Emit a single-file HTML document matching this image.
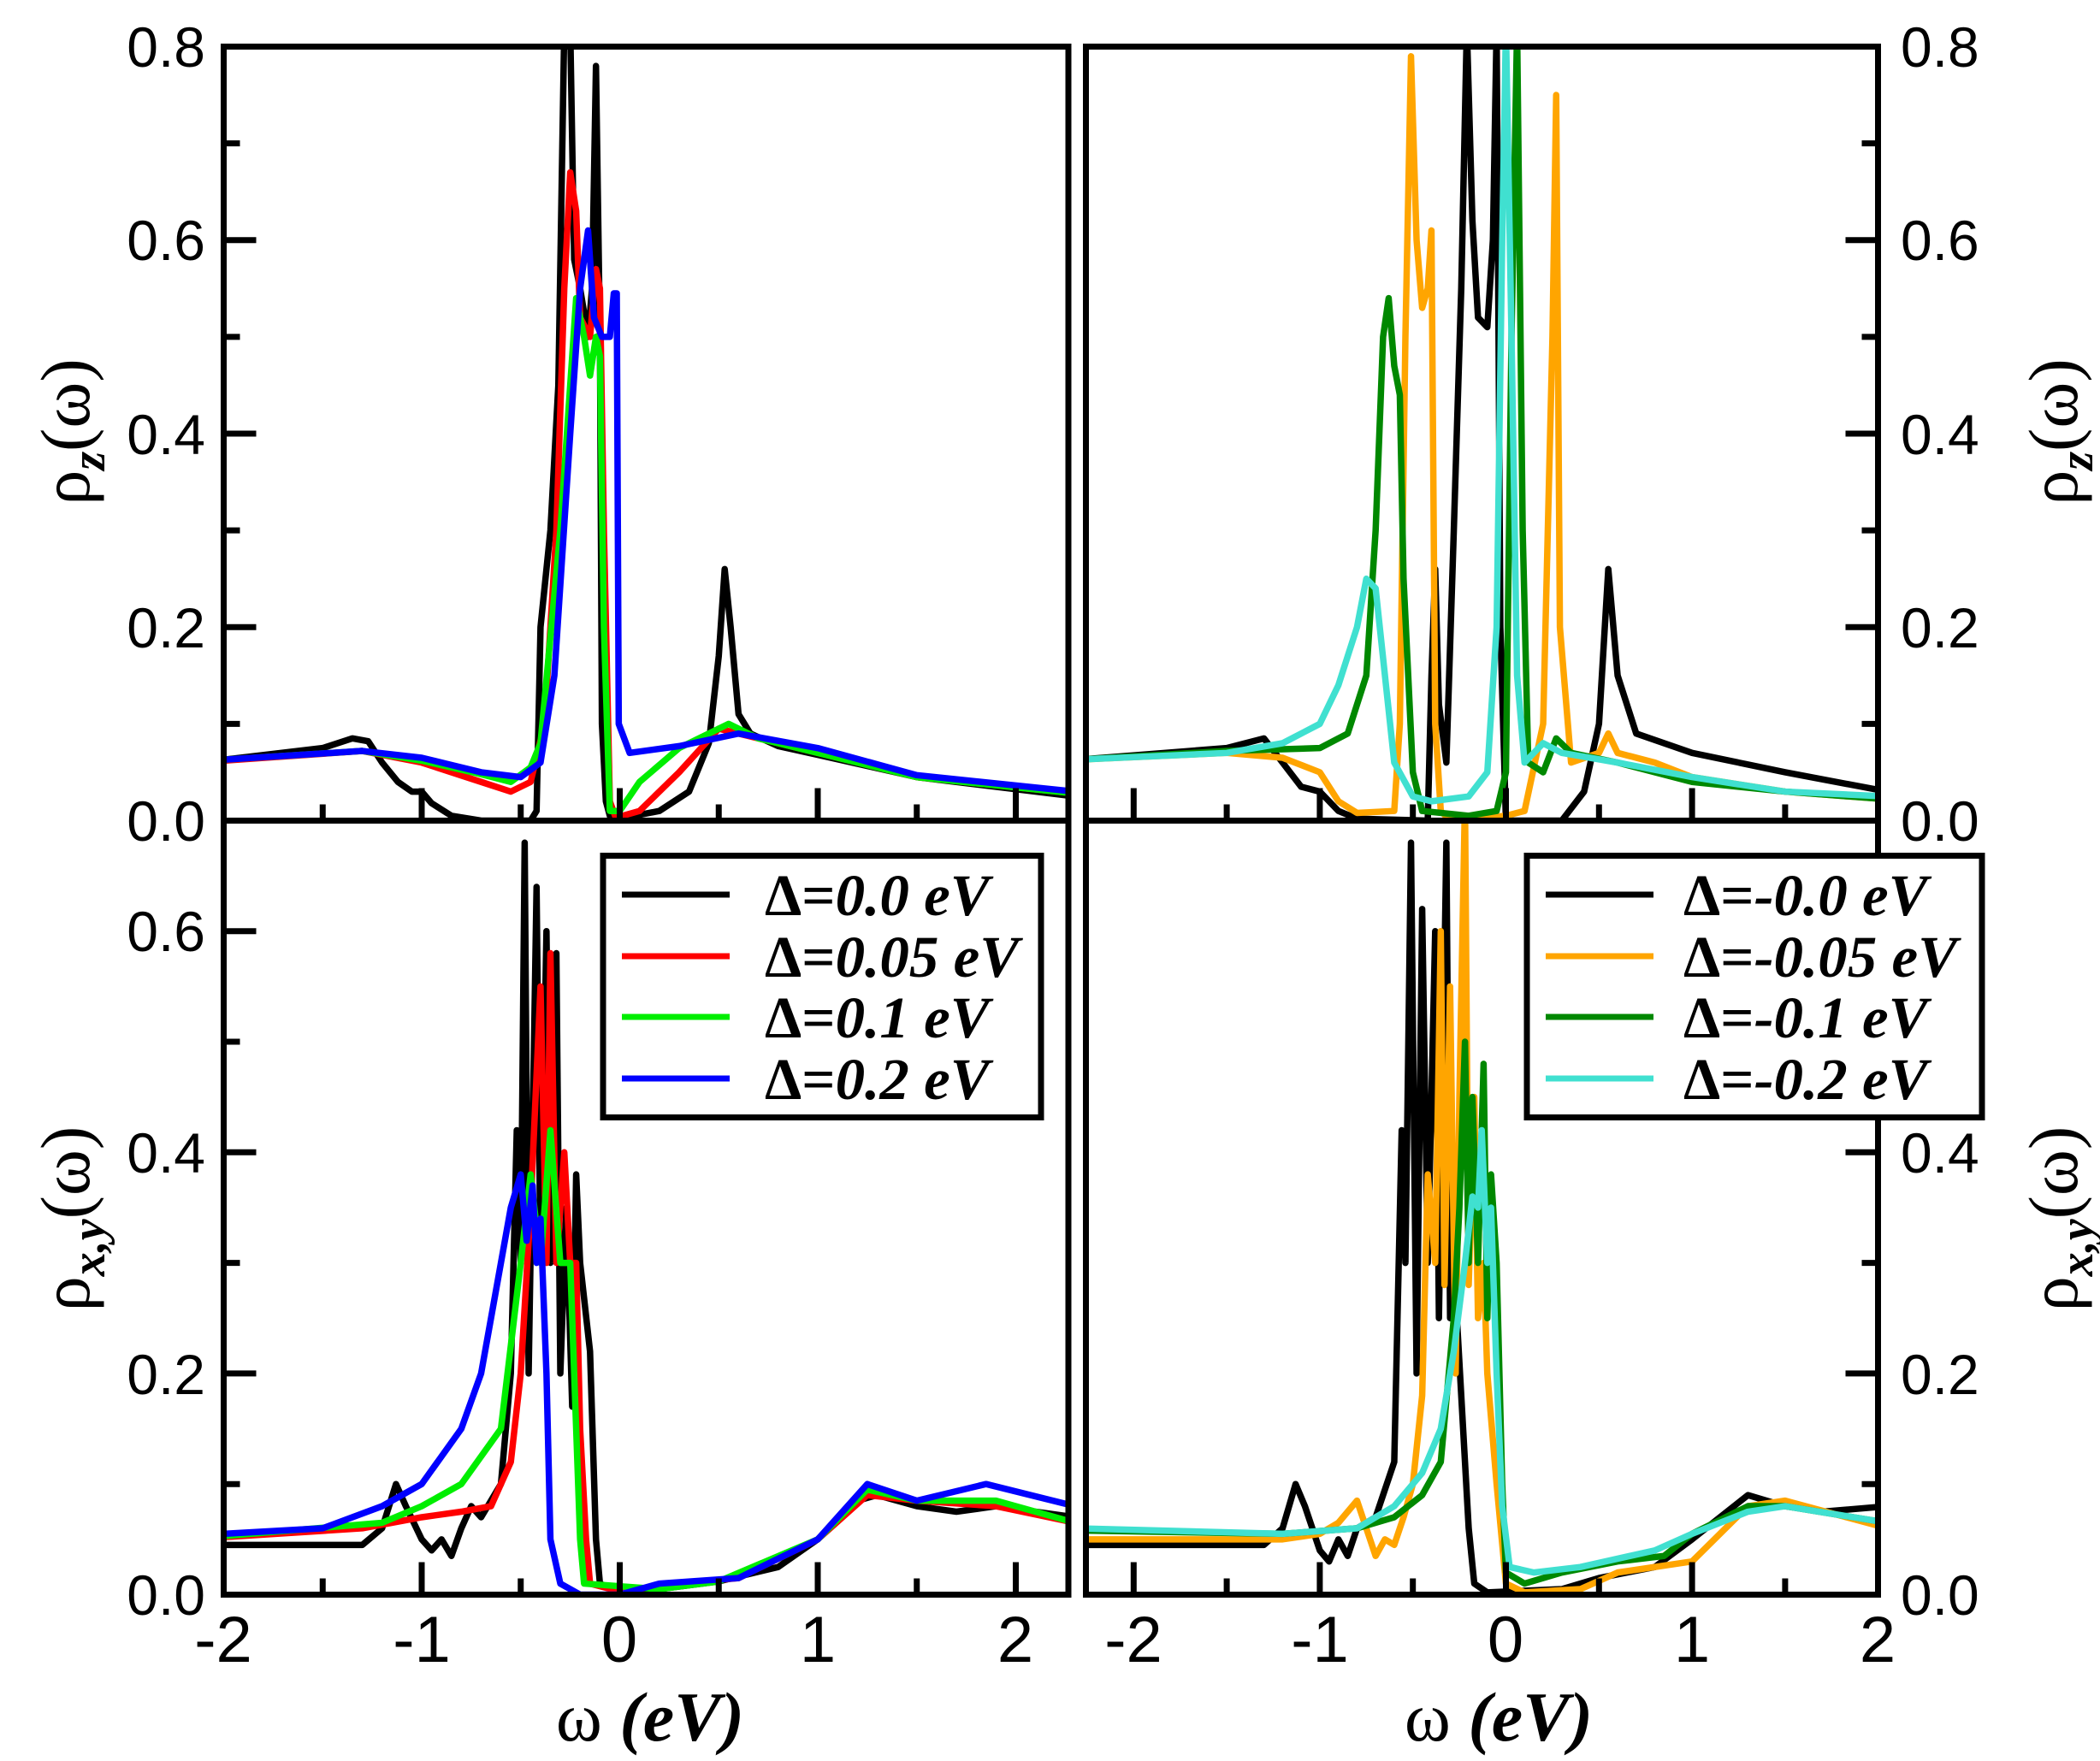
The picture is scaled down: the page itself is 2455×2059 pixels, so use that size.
<!DOCTYPE html>
<html><head><meta charset="utf-8"><style>
html,body{margin:0;padding:0;background:#fff;}
svg{display:block;}
.tl{font-family:"Liberation Sans",sans-serif;font-size:66px;}
.lg{font-family:"Liberation Serif",serif;font-size:69px;font-weight:bold;}
.ax{font-family:"Liberation Serif",serif;font-size:82px;}
</style></head><body>
<svg width="2455" height="2059" viewBox="0 0 2455 2059" xmlns="http://www.w3.org/2000/svg">
<defs>
<clipPath id="cTL"><rect x="261.5" y="54.5" width="987.5" height="905"/></clipPath>
<clipPath id="cTR"><rect x="1269.5" y="54.5" width="926" height="905"/></clipPath>
<clipPath id="cBL"><rect x="261.5" y="959.5" width="987.5" height="905"/></clipPath>
<clipPath id="cBR"><rect x="1269.5" y="959.5" width="926" height="905"/></clipPath>
</defs>
<rect width="2455" height="2059" fill="#fff"/>
<g fill="none" stroke-width="7.5" stroke-linejoin="round" stroke-linecap="round">
<g clip-path="url(#cTL)"><g transform="translate(724.5,959.5) scale(231.5,-1131.25)">
<polyline vector-effect="non-scaling-stroke" stroke="#000" points="-2,0.063 -1.5,0.075 -1.35,0.085 -1.27,0.082 -1.2,0.06 -1.12,0.04 -1.05,0.03 -1,0.03 -0.95,0.018 -0.85,0.005 -0.7,0 -0.45,0 -0.42,0.01 -0.4,0.2 -0.35,0.3 -0.31,0.45 -0.28,0.82 -0.25,0.82 -0.23,0.58 -0.2,0.55 -0.16,0.5 -0.14,0.55 -0.12,0.78 -0.1,0.5 -0.09,0.1 -0.07,0.02 -0.05,0.005 0,0.002 0.2,0.01 0.35,0.03 0.45,0.08 0.5,0.17 0.53,0.26 0.56,0.2 0.6,0.11 0.66,0.09 0.8,0.077 1,0.068 1.5,0.045 2.3,0.025"/>
<polyline vector-effect="non-scaling-stroke" stroke="#ff0000" points="-2,0.062 -1.3,0.072 -1,0.06 -0.7,0.04 -0.55,0.03 -0.45,0.04 -0.38,0.1 -0.32,0.3 -0.28,0.55 -0.25,0.67 -0.22,0.63 -0.2,0.52 -0.15,0.5 -0.12,0.57 -0.1,0.55 -0.08,0.3 -0.05,0.02 -0.02,0.003 0.1,0.01 0.3,0.05 0.5,0.095 0.6,0.09 1,0.07 1.5,0.045 2.3,0.028"/>
<polyline vector-effect="non-scaling-stroke" stroke="#00ee00" points="-2,0.063 -1.3,0.072 -1,0.062 -0.7,0.048 -0.55,0.04 -0.45,0.055 -0.4,0.08 -0.3,0.3 -0.22,0.54 -0.18,0.5 -0.15,0.46 -0.12,0.5 -0.1,0.48 -0.08,0.2 -0.05,0.01 0,0.01 0.1,0.04 0.3,0.075 0.55,0.1 0.7,0.085 1,0.07 1.5,0.045 2.3,0.028"/>
<polyline vector-effect="non-scaling-stroke" stroke="#0000ff" points="-2,0.063 -1.3,0.072 -1,0.065 -0.7,0.05 -0.5,0.045 -0.4,0.06 -0.33,0.15 -0.25,0.4 -0.2,0.55 -0.16,0.61 -0.13,0.52 -0.09,0.5 -0.05,0.5 -0.03,0.545 -0.015,0.545 -0.005,0.1 0.05,0.07 0.3,0.077 0.6,0.09 1,0.075 1.5,0.047 2.3,0.03"/>
</g></g>
<g clip-path="url(#cTR)"><g transform="translate(1760.5,959.5) scale(217.6,-1131.25)">
<polyline vector-effect="non-scaling-stroke" stroke="#000" points="-2.3,0.063 -1.5,0.075 -1.3,0.085 -1.2,0.06 -1.1,0.035 -1,0.03 -0.9,0.01 -0.8,0.002 -0.42,0 -0.4,0.15 -0.38,0.26 -0.36,0.12 -0.32,0.06 -0.28,0.3 -0.24,0.55 -0.21,0.82 -0.18,0.62 -0.15,0.52 -0.1,0.51 -0.07,0.6 -0.05,0.82 -0.03,0.2 0,0 0.3,0 0.42,0.03 0.5,0.1 0.55,0.26 0.6,0.15 0.7,0.09 1,0.07 1.5,0.05 2.05,0.03"/>
<polyline vector-effect="non-scaling-stroke" stroke="#ffa500" points="-2.3,0.063 -1.5,0.07 -1.2,0.065 -1,0.05 -0.9,0.02 -0.8,0.008 -0.6,0.01 -0.57,0.1 -0.54,0.5 -0.51,0.79 -0.48,0.6 -0.45,0.53 -0.42,0.55 -0.4,0.61 -0.38,0.1 -0.35,0.01 -0.3,0 0,0.005 0.1,0.01 0.2,0.1 0.25,0.5 0.27,0.75 0.29,0.2 0.35,0.06 0.5,0.07 0.55,0.09 0.6,0.07 0.8,0.06 1,0.045 1.5,0.03 2.05,0.022"/>
<polyline vector-effect="non-scaling-stroke" stroke="#008800" points="-2.3,0.063 -1.5,0.072 -1,0.075 -0.85,0.09 -0.75,0.15 -0.7,0.3 -0.66,0.5 -0.63,0.54 -0.6,0.47 -0.57,0.44 -0.55,0.25 -0.5,0.05 -0.45,0.01 -0.2,0.005 -0.05,0.01 0,0.05 0.03,0.5 0.06,0.82 0.09,0.3 0.12,0.06 0.2,0.05 0.27,0.085 0.35,0.07 0.6,0.06 1,0.04 1.5,0.03 2.05,0.022"/>
<polyline vector-effect="non-scaling-stroke" stroke="#40e0d0" points="-2.3,0.063 -1.5,0.07 -1.2,0.08 -1,0.1 -0.9,0.14 -0.8,0.2 -0.75,0.25 -0.7,0.24 -0.65,0.15 -0.6,0.06 -0.5,0.025 -0.4,0.02 -0.2,0.025 -0.1,0.05 -0.05,0.2 -0.02,0.6 0,0.82 0.03,0.5 0.06,0.15 0.1,0.06 0.2,0.08 0.3,0.07 0.6,0.06 1,0.045 1.5,0.03 2.05,0.025"/>
</g></g>
<g clip-path="url(#cBL)"><g transform="translate(724.5,1864.5) scale(231.5,-1293)">
<polyline vector-effect="non-scaling-stroke" stroke="#000" points="-2,0.045 -1.3,0.045 -1.2,0.06 -1.13,0.1 -1.08,0.08 -1,0.05 -0.95,0.04 -0.9,0.05 -0.85,0.035 -0.8,0.06 -0.75,0.08 -0.7,0.07 -0.6,0.1 -0.55,0.2 -0.52,0.42 -0.5,0.3 -0.48,0.68 -0.46,0.2 -0.42,0.64 -0.4,0.3 -0.37,0.6 -0.35,0.3 -0.32,0.58 -0.3,0.2 -0.27,0.35 -0.24,0.17 -0.22,0.38 -0.2,0.3 -0.15,0.22 -0.12,0.05 -0.1,0.01 0,0.002 0.2,0.005 0.5,0.012 0.8,0.025 1,0.05 1.2,0.085 1.3,0.09 1.5,0.08 1.7,0.075 1.9,0.08 2.3,0.07"/>
<polyline vector-effect="non-scaling-stroke" stroke="#ff0000" points="-2,0.052 -1.3,0.06 -1,0.07 -0.8,0.075 -0.65,0.08 -0.55,0.12 -0.5,0.2 -0.45,0.35 -0.4,0.55 -0.37,0.3 -0.35,0.58 -0.32,0.3 -0.28,0.4 -0.25,0.3 -0.22,0.3 -0.2,0.15 -0.17,0.05 -0.15,0.01 0,0.003 0.3,0.01 0.6,0.015 1,0.05 1.25,0.09 1.5,0.085 1.9,0.08 2.3,0.065"/>
<polyline vector-effect="non-scaling-stroke" stroke="#00ee00" points="-2,0.053 -1.2,0.065 -1,0.08 -0.8,0.1 -0.6,0.15 -0.5,0.3 -0.45,0.38 -0.4,0.3 -0.35,0.42 -0.3,0.3 -0.25,0.3 -0.22,0.15 -0.2,0.05 -0.18,0.01 0.2,0.005 0.5,0.012 1,0.05 1.25,0.095 1.5,0.085 1.9,0.085 2.3,0.065"/>
<polyline vector-effect="non-scaling-stroke" stroke="#0000ff" points="-2,0.055 -1.5,0.06 -1.2,0.08 -1,0.1 -0.8,0.15 -0.7,0.2 -0.6,0.3 -0.55,0.35 -0.5,0.38 -0.47,0.32 -0.44,0.37 -0.42,0.3 -0.4,0.34 -0.37,0.2 -0.35,0.05 -0.3,0.01 -0.2,0 0,0 0.2,0.01 0.6,0.015 1,0.05 1.25,0.1 1.5,0.085 1.85,0.1 2.3,0.08"/>
</g></g>
<g clip-path="url(#cBR)"><g transform="translate(1760.5,1864.5) scale(217.6,-1293)">
<polyline vector-effect="non-scaling-stroke" stroke="#000" points="-2.3,0.045 -1.3,0.045 -1.2,0.06 -1.13,0.1 -1.08,0.08 -1,0.04 -0.95,0.03 -0.9,0.05 -0.85,0.035 -0.8,0.06 -0.7,0.07 -0.6,0.12 -0.56,0.42 -0.54,0.3 -0.51,0.68 -0.48,0.2 -0.45,0.62 -0.42,0.3 -0.38,0.6 -0.36,0.25 -0.32,0.68 -0.3,0.25 -0.28,0.3 -0.2,0.06 -0.17,0.01 -0.1,0.002 0.3,0.005 0.5,0.015 0.8,0.025 1,0.05 1.3,0.09 1.5,0.08 1.7,0.075 2.05,0.08"/>
<polyline vector-effect="non-scaling-stroke" stroke="#ffa500" points="-2.3,0.05 -1.2,0.05 -1,0.055 -0.9,0.065 -0.8,0.085 -0.75,0.06 -0.7,0.035 -0.65,0.05 -0.6,0.045 -0.55,0.07 -0.5,0.1 -0.45,0.18 -0.42,0.38 -0.38,0.3 -0.35,0.6 -0.33,0.28 -0.3,0.55 -0.27,0.2 -0.25,0.45 -0.22,0.72 -0.2,0.28 -0.17,0.45 -0.15,0.25 -0.12,0.3 -0.1,0.2 -0.05,0.1 0,0.01 0.1,0.002 0.4,0.005 0.6,0.02 1,0.03 1.3,0.08 1.5,0.085 2.05,0.06"/>
<polyline vector-effect="non-scaling-stroke" stroke="#008800" points="-2.3,0.058 -1.2,0.055 -0.8,0.06 -0.6,0.07 -0.45,0.09 -0.35,0.12 -0.28,0.25 -0.25,0.35 -0.22,0.5 -0.2,0.3 -0.18,0.45 -0.15,0.3 -0.12,0.48 -0.1,0.25 -0.08,0.38 -0.05,0.3 -0.02,0.1 0,0.02 0.1,0.01 0.3,0.02 0.6,0.03 0.85,0.035 1,0.055 1.3,0.08 1.5,0.08 2.05,0.065"/>
<polyline vector-effect="non-scaling-stroke" stroke="#40e0d0" points="-2.3,0.06 -1.2,0.055 -0.8,0.06 -0.6,0.08 -0.45,0.11 -0.35,0.15 -0.28,0.22 -0.22,0.3 -0.18,0.36 -0.15,0.35 -0.13,0.42 -0.1,0.3 -0.08,0.35 -0.05,0.2 -0.02,0.08 0.02,0.025 0.15,0.02 0.4,0.025 0.8,0.04 1,0.055 1.3,0.075 1.5,0.08 2.05,0.065"/>
</g></g>
</g>
<g fill="none" stroke="#000" stroke-width="7">
<rect x="261.5" y="54.5" width="987.5" height="1810"/>
<line x1="261.5" y1="959.5" x2="1249" y2="959.5"/>
<rect x="1269.5" y="54.5" width="926" height="1810"/>
<line x1="1269.5" y1="959.5" x2="2195.5" y2="959.5"/>
</g>
<g stroke="#000" stroke-width="7">
<path d="M261.5,959.5v-38 M377.25,959.5v-19 M493,959.5v-38 M608.75,959.5v-19 M724.5,959.5v-38 M840.25,959.5v-19 M956,959.5v-38 M1071.75,959.5v-19 M1187.5,959.5v-38
M261.5,1864.5v-38 M377.25,1864.5v-19 M493,1864.5v-38 M608.75,1864.5v-19 M724.5,1864.5v-38 M840.25,1864.5v-19 M956,1864.5v-38 M1071.75,1864.5v-19 M1187.5,1864.5v-38"/>
<path d="M1325.3,959.5v-38 M1434.1,959.5v-19 M1542.9,959.5v-38 M1651.7,959.5v-19 M1760.5,959.5v-38 M1869.3,959.5v-19 M1978.1,959.5v-38 M2086.9,959.5v-19
M1325.3,1864.5v-38 M1434.1,1864.5v-19 M1542.9,1864.5v-38 M1651.7,1864.5v-19 M1760.5,1864.5v-38 M1869.3,1864.5v-19 M1978.1,1864.5v-38 M2086.9,1864.5v-19"/>
<path d="M261.5,846.4h19 M261.5,733.25h38 M261.5,620.1h19 M261.5,507h38 M261.5,393.9h19 M261.5,280.75h38 M261.5,167.6h19"/>
<path d="M261.5,1735.2h19 M261.5,1605.9h38 M261.5,1476.6h19 M261.5,1347.3h38 M261.5,1218h19 M261.5,1088.7h38"/>
<path d="M2195.5,846.4h-19 M2195.5,733.25h-38 M2195.5,620.1h-19 M2195.5,507h-38 M2195.5,393.9h-19 M2195.5,280.75h-38 M2195.5,167.6h-19"/>
<path d="M2195.5,1735.2h-19 M2195.5,1605.9h-38 M2195.5,1476.6h-19 M2195.5,1347.3h-38 M2195.5,1218h-19"/>
</g>
<g class="tl" text-anchor="end" fill="#000">
<text x="240" y="78">0.8</text>
<text x="240" y="304">0.6</text>
<text x="240" y="531">0.4</text>
<text x="240" y="757">0.2</text>
<text x="240" y="983">0.0</text>
<text x="240" y="1112">0.6</text>
<text x="240" y="1371">0.4</text>
<text x="240" y="1630">0.2</text>
<text x="240" y="1888">0.0</text>
</g>
<g class="tl" text-anchor="start" fill="#000">
<text x="2222" y="78">0.8</text>
<text x="2222" y="304">0.6</text>
<text x="2222" y="531">0.4</text>
<text x="2222" y="757">0.2</text>
<text x="2222" y="983">0.0</text>
<text x="2222" y="1371">0.4</text>
<text x="2222" y="1630">0.2</text>
<text x="2222" y="1888">0.0</text>
</g>
<g class="tl" text-anchor="middle" fill="#000" style="font-size:76px">
<text x="261" y="1943">-2</text>
<text x="493" y="1943">-1</text>
<text x="724" y="1943">0</text>
<text x="956" y="1943">1</text>
<text x="1187" y="1943">2</text>
<text x="1325" y="1943">-2</text>
<text x="1543" y="1943">-1</text>
<text x="1760" y="1943">0</text>
<text x="1978" y="1943">1</text>
<text x="2195" y="1943">2</text>
</g>
<g class="ax" text-anchor="middle" fill="#000">
<text x="760" y="2035">ω <tspan font-style="italic" font-weight="bold">(eV)</tspan></text>
<text x="1752" y="2035">ω <tspan font-style="italic" font-weight="bold">(eV)</tspan></text>
<text transform="translate(104,505) rotate(-90)">ρ<tspan font-size="56" font-style="italic" font-weight="bold" dy="18">z</tspan><tspan dy="-18">(ω)</tspan></text>
<text transform="translate(104,1425) rotate(-90)">ρ<tspan font-size="56" font-style="italic" font-weight="bold" dy="18">x,y</tspan><tspan dy="-18">(ω)</tspan></text>
<text transform="translate(2428,505) rotate(-90)">ρ<tspan font-size="56" font-style="italic" font-weight="bold" dy="18">z</tspan><tspan dy="-18">(ω)</tspan></text>
<text transform="translate(2428,1425) rotate(-90)">ρ<tspan font-size="56" font-style="italic" font-weight="bold" dy="18">x,y</tspan><tspan dy="-18">(ω)</tspan></text>
</g>
<rect x="705" y="1000.5" width="512" height="306" fill="#fff" stroke="#000" stroke-width="7"/>
<g stroke-width="7">
<line x1="727" y1="1046" x2="853" y2="1046" stroke="#000"/>
<line x1="727" y1="1118" x2="853" y2="1118" stroke="#ff0000"/>
<line x1="727" y1="1189" x2="853" y2="1189" stroke="#00ee00"/>
<line x1="727" y1="1261" x2="853" y2="1261" stroke="#0000ff"/>
</g>
<g class="lg" fill="#000">
<text x="894" y="1070">Δ=<tspan font-style="italic">0.0 eV</tspan></text>
<text x="894" y="1142">Δ=<tspan font-style="italic">0.05 eV</tspan></text>
<text x="894" y="1213">Δ=<tspan font-style="italic">0.1 eV</tspan></text>
<text x="894" y="1285">Δ=<tspan font-style="italic">0.2 eV</tspan></text>
</g>
<rect x="1785" y="1000.5" width="532" height="306" fill="#fff" stroke="#000" stroke-width="7"/>
<g stroke-width="7">
<line x1="1807" y1="1046" x2="1933" y2="1046" stroke="#000"/>
<line x1="1807" y1="1118" x2="1933" y2="1118" stroke="#ffa500"/>
<line x1="1807" y1="1189" x2="1933" y2="1189" stroke="#008800"/>
<line x1="1807" y1="1261" x2="1933" y2="1261" stroke="#40e0d0"/>
</g>
<g class="lg" fill="#000">
<text x="1968" y="1070">Δ=<tspan font-style="italic">-0.0 eV</tspan></text>
<text x="1968" y="1142">Δ=<tspan font-style="italic">-0.05 eV</tspan></text>
<text x="1968" y="1213">Δ=<tspan font-style="italic">-0.1 eV</tspan></text>
<text x="1968" y="1285">Δ=<tspan font-style="italic">-0.2 eV</tspan></text>
</g>
</svg>
</body></html>
